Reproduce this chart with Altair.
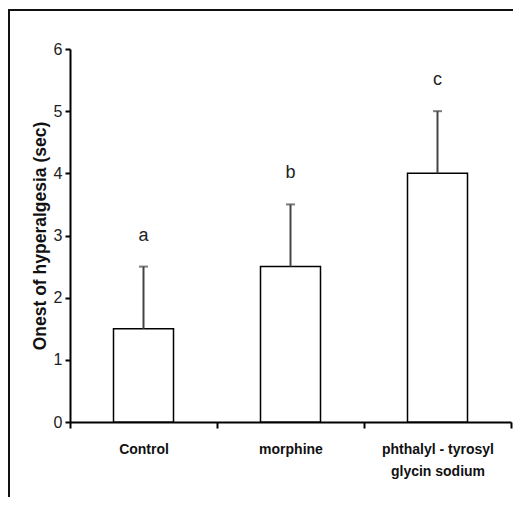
import altair as alt
import pandas as pd

groups = ["Control", "morphine", "phthalyl - tyrosyl\nglycin sodium"]
means = [1.5, 2.5, 4.0]
errors = [1.0, 1.0, 1.0]
letters = ["a", "b", "c"]
y_ticks = [0, 1, 2, 3, 4, 5, 6]

df = pd.DataFrame({"group": groups, "mean": means, "err": errors, "letter": letters})
df["top"] = df["mean"] + df["err"]

FONT = "Liberation Sans"

x_enc = alt.X(
    "group:N",
    sort=groups,
    scale=alt.Scale(paddingInner=0, paddingOuter=0),
    axis=alt.Axis(
        title=None,
        labelAngle=0,
        labelFont=FONT,
        labelFontWeight="bold",
        labelFontSize=14,
        labelColor="#111",
        labelPadding=14,
        labelLineHeight=22,
        labelBaseline="top",
        labelExpr="split(datum.label, '\\n')",
        domainColor="black",
        domainWidth=2,
        tickColor="black",
        tickWidth=2,
        tickSize=6,
        tickBand="extent",
    ),
)

y_scale = alt.Scale(domain=[0, 6], nice=False)

bars = alt.Chart(df).mark_bar(size=60, fill="white", stroke="black", strokeWidth=1.5).encode(
    x=x_enc,
    y=alt.Y(
        "mean:Q",
        scale=y_scale,
        axis=alt.Axis(
            title="Onest of hyperalgesia (sec)",
            titleFont=FONT,
            titleFontSize=17.5,
            titleFontWeight="bold",
            titleColor="#111",
            titlePadding=4,
            values=y_ticks,
            format="d",
            grid=False,
            labelFont=FONT,
            labelFontSize=16,
            labelColor="#222",
            labelPadding=3,
            domainColor="black",
            domainWidth=2,
            tickColor="black",
            tickWidth=2,
            tickSize=5,
        ),
    ),
)

err = alt.Chart(df).mark_rule(color="#444", strokeWidth=2).encode(
    x=alt.X("group:N", sort=groups),
    y=alt.Y("mean:Q", scale=y_scale),
    y2="top:Q",
)

caps = alt.Chart(df).mark_tick(color="#444", size=9, thickness=2).encode(
    x=alt.X("group:N", sort=groups),
    y=alt.Y("top:Q", scale=y_scale),
)

txt = alt.Chart(df).mark_text(font=FONT, fontSize=18, color="#222", baseline="middle", dy=-31).encode(
    x=alt.X("group:N", sort=groups),
    y=alt.Y("top:Q", scale=y_scale),
    text="letter:N",
)

frame_df = pd.DataFrame({"k": [0]})
frame_top = alt.Chart(frame_df).mark_rect(color="#111111").encode(
    x=alt.value(-62), x2=alt.value(443), y=alt.value(-40), y2=alt.value(-38)
)
frame_left = alt.Chart(frame_df).mark_rect(color="#111111").encode(
    x=alt.value(-62), x2=alt.value(-60), y=alt.value(-40), y2=alt.value(448)
)

chart = alt.layer(bars, err, caps, txt, frame_top, frame_left).properties(
    width=441,
    height=373,
    padding={"left": 62, "top": 41, "right": 4, "bottom": 75},
    autosize=alt.AutoSizeParams(type="none"),
).configure_view(strokeWidth=0)

chart.save("out.html", embed_options={"renderer": "svg", "actions": False})
